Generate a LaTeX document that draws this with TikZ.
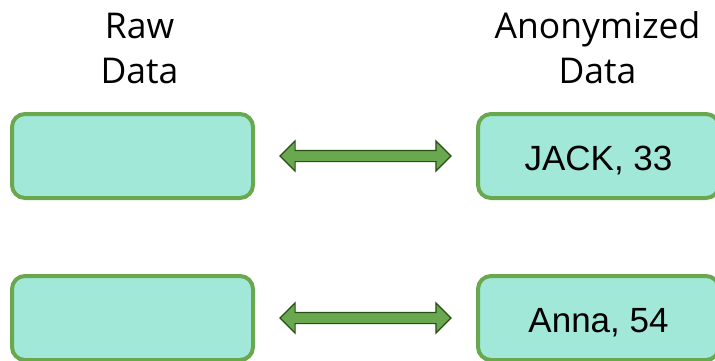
\documentclass[tikz,border=0pt]{standalone}
\usepackage{fontspec}
\setmainfont{Open Sans}
\newfontfamily\boxfont{Liberation Sans}
\usepackage{xcolor}
\definecolor{mintbg}{RGB}{162,232,217}
\definecolor{mintframe}{RGB}{106,168,79}
\definecolor{linkfill}{RGB}{106,168,79}
\definecolor{linkframe}{RGB}{39,78,19}
\usepackage{tikz}
\usetikzlibrary{positioning,calc,shapes.arrows}
\tikzset{
  db_box/.style={rectangle,rounded corners=13pt,
    draw=mintframe,fill=mintbg,line width=4pt,
    minimum width=241pt,minimum height=84pt,
    inner sep=0pt,text height=29pt,text depth=0pt,
    font=\boxfont\fontsize{35}{40}\selectfont},
  db_head/.style={align=center,inner sep=0pt,
    font=\fontsize{35.5}{45}\selectfont},
  db_link/.style={double arrow,double arrow head extend=9.5pt,
    draw=linkframe,fill=linkfill,line width=1.2pt,
    minimum height=171pt,inner xsep=0pt,inner ysep=5pt},
}

\begin{document}
\begin{tikzpicture}[x=1pt,y=-1pt]
  \useasboundingbox (0,0) rectangle (715,360);
  \clip (0,0) rectangle (715,360);
  % data rows
  \node (raw_a) [db_box] at (132.5,156) {};
  \node (anon_a) [db_box, right=221pt of raw_a] {JACK, 33};
  \node (raw_b) [db_box, below=74pt of raw_a] {};
  \node (anon_b) [db_box, right=221pt of raw_b] {Anna, 54};
  % column titles
  \node (hd_raw) [db_head, above=28pt of raw_a, xshift=7pt] {Raw\\Data};
  \node (hd_anon) [db_head, above=28pt of anon_a, xshift=-1pt] {Anonymized\\Data};
  % two-way links
  \node (link_a) [db_link] at ($(raw_a.east)!0.5!(anon_a.west)$) {};
  \node (link_b) [db_link] at ($(raw_b.east)!0.5!(anon_b.west)$) {};
\end{tikzpicture}
\end{document}
